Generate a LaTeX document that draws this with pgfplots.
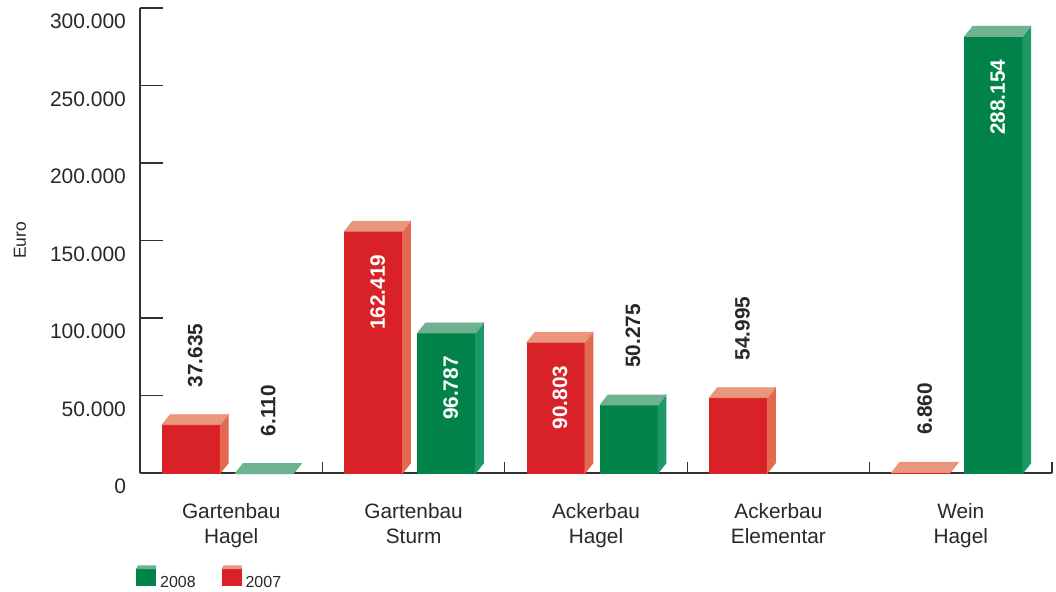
\documentclass[border=0pt]{standalone}
\usepackage{fontspec}
\setmainfont{Liberation Sans}
\usepackage{pgfplots}
\pgfplotsset{compat=1.18}
\usepackage{pgfplotstable}

\definecolor{r07}{RGB}{217,33,40}
\definecolor{r07s}{RGB}{228,104,80}
\definecolor{r07t}{RGB}{234,150,125}
\definecolor{g08}{RGB}{0,130,72}
\definecolor{g08s}{RGB}{28,153,102}
\definecolor{g08t}{RGB}{110,178,145}
\definecolor{txt}{RGB}{40,40,40}
\definecolor{axc}{RGB}{50,50,50}

\newcommand\barfont{\fontsize{10.4}{12}\selectfont\bfseries}

% #1 x offset of front face, #2 front, #3 side, #4 top colour
\newcommand\drawbar[4]{%
  \edef\myraw{\pgfplotspointmeta}%
  \edef\hh{\the\dimexpr 232.5pt*\myraw/300000\relax}%
  \ifdim\hh<5pt \def\hh{5pt}\fi
  \fill[#2] (#1,-\hh) rectangle (#1+29pt,-5pt);
  \fill[#3] (#1+29pt,-\hh) -- (#1+33pt,-\hh+5pt) -- (#1+33pt,0pt) -- (#1+29pt,-5pt) -- cycle;
  \fill[#4] (#1,-5pt) -- (#1+4pt,0pt) -- (#1+33pt,0pt) -- (#1+29pt,-5pt) -- cycle;
  \ifnum\myraw>80000
    \node[rotate=90,anchor=east,text=white,font=\barfont,inner sep=0pt] at (#1+16.5pt,-16.5pt) {\pgfmathprintnumber[fixed,precision=0,1000 sep={.},assume math mode=true]{\myraw}};
  \else
    \node[rotate=90,anchor=west,text=txt,font=\barfont,inner sep=0pt] at (#1+16.5pt,13.5pt) {\pgfmathprintnumber[fixed,precision=0,1000 sep={.},assume math mode=true]{\myraw}};
  \fi
}
\pgfdeclareplotmark{bar07}{\drawbar{-34.5pt}{r07}{r07s}{r07t}}
\pgfdeclareplotmark{bar08}{\drawbar{2pt}{g08}{g08s}{g08t}}

% 2007
\pgfplotstableread{
x v
0 37635
1 162419
2 90803
3 54995
4 6860
}\dataA
% 2008
\pgfplotstableread{
x v
0 6110
1 96787
2 50275
4 288154
}\dataB

\begin{document}
\begin{tikzpicture}
\path[use as bounding box] (0,0) rectangle (528pt,296pt);
\begin{axis}[
  at={(70pt,59.5pt)}, anchor=south west,
  scale only axis, width=456pt, height=232.5pt,
  xmin=-0.5, xmax=4.5, ymin=0, ymax=300000,
  axis lines*=left, clip=false,
  axis line style={axc, line width=0.75pt},
  tick align=inside,
  major tick length=11.5pt,
  minor tick length=5.5pt,
  every tick/.append style={axc, line width=0.6pt},
  scaled y ticks=false,
  ytick={0,50000,100000,150000,200000,250000,300000},
  yticklabel={\pgfmathprintnumber[fixed,precision=0,1000 sep={.},assume math mode=true]{\tick}},
  yticklabel style={yshift=-6.75pt, xshift=-3.5pt},
  xtick={0,1,2,3,4},
  xticklabels={{Gartenbau\\Hagel},{Gartenbau\\Sturm},{Ackerbau\\Hagel},{Ackerbau\\Elementar},{Wein\\Hagel}},
  major x tick style={draw=none},
  minor xtick={0.5,1.5,2.5,3.5,4.5},
  xticklabel style={align=center, yshift=-11.5pt, font=\fontsize{10.4}{12.5}\selectfont},
  tick label style={text=txt, font=\fontsize{10.5}{12.5}\selectfont},
  ylabel={Euro},
  ylabel style={at={(axis description cs:-0.1316,0.5)}, anchor=center, font=\fontsize{8.7}{10}\selectfont, text=txt},
  legend style={at={(axis description cs:0,0)}, anchor=north west, xshift=-2pt, yshift=-46pt,
    draw=none, fill=none, inner sep=0pt, legend columns=2,
    font=\fontsize{8}{9.6}\selectfont, text=txt,
    /tikz/every even column/.append style={column sep=11pt}},
]
\addplot[scatter, only marks, mark=bar07, forget plot,
  point meta=explicit symbolic,
  scatter/@pre marker code/.code={}, scatter/@post marker code/.code={}]
  table[x=x,y=v,meta=v] {\dataA};
\addplot[scatter, only marks, mark=bar08, forget plot,
  point meta=explicit symbolic,
  scatter/@pre marker code/.code={}, scatter/@post marker code/.code={}]
  table[x=x,y=v,meta=v] {\dataB};
\addlegendimage{legend image code/.code={
  \fill[g08] (0pt,-1pt) rectangle (9.5pt,7.5pt);
  \fill[g08t] (0pt,7.5pt) -- (0.7pt,9pt) -- (9.5pt,9pt) -- (9.5pt,7.5pt) -- cycle;}}
\addlegendentry{2008}
\addlegendimage{legend image code/.code={
  \fill[r07] (0pt,-1pt) rectangle (9.5pt,7.5pt);
  \fill[r07t] (0pt,7.5pt) -- (0.7pt,9pt) -- (9.5pt,9pt) -- (9.5pt,7.5pt) -- cycle;}}
\addlegendentry{2007}
\end{axis}
\end{tikzpicture}
\end{document}
